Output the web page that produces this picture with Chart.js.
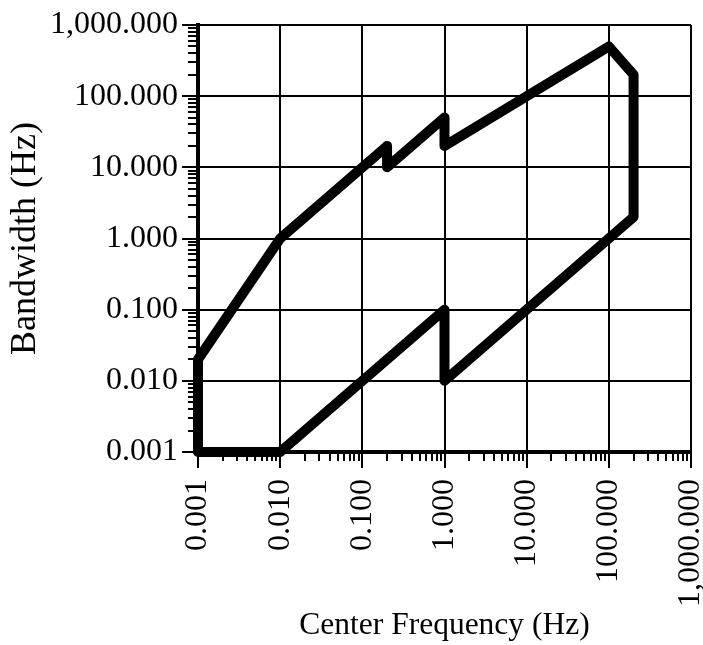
<!DOCTYPE html>
<html>
<head>
<meta charset="utf-8">
<title>Bandwidth vs Center Frequency</title>
<script src="https://cdn.jsdelivr.net/npm/chart.js@4.4.0/dist/chart.umd.min.js"></script>
<style>
  body { margin: 0; background: #fff; }
  canvas { display: block; }
</style>
</head>
<body>
<canvas id="chartBanda" width="703" height="645"></canvas>
<script>
// contorno da região coberta, percorrido em ordem
const centerFreq = [0.001, 0.001, 0.01, 0.2, 0.2, 1, 1, 100, 200, 200, 1, 1, 0.01, 0.001];
const bandwidth = [0.001, 0.02, 1, 20, 10, 50, 20, 500, 200, 2, 0.01, 0.1, 0.001, 0.001];

const xTickValues = [0.001, 0.01, 0.1, 1, 10, 100, 1000];
const xTickLabels = ["0.001", "0.010", "0.100", "1.000", "10.000", "100.000", "1,000.000"];
const yTickValues = [0.001, 0.01, 0.1, 1, 10, 100, 1000];
const yTickLabels = ["0.001", "0.010", "0.100", "1.000", "10.000", "100.000", "1,000.000"];

const fonte = "'Liberation Serif', 'Times New Roman', serif";

// tracinhos menores (2..9 de cada década), por fora da área do gráfico
const minorTicks = {
  id: 'minorTicks',
  afterDraw(chart) {
    const ctx = chart.ctx;
    const sx = chart.scales.x;
    const sy = chart.scales.y;
    const area = chart.chartArea;
    ctx.save();
    ctx.strokeStyle = '#000';
    ctx.lineWidth = 2;
    ctx.beginPath();
    for (let d = 0; d < xTickValues.length - 1; d++) {
      for (let m = 2; m <= 9; m++) {
        const px = Math.round(sx.getPixelForValue(xTickValues[d] * m));
        ctx.moveTo(px, area.bottom);
        ctx.lineTo(px, area.bottom + 9);
      }
    }
    for (let d = 0; d < yTickValues.length - 1; d++) {
      for (let m = 2; m <= 9; m++) {
        const py = Math.round(sy.getPixelForValue(yTickValues[d] * m));
        ctx.moveTo(area.left, py);
        ctx.lineTo(area.left - 10, py);
      }
    }
    ctx.stroke();
    ctx.restore();
  }
};

const pontos = centerFreq.map((f, i) => ({ x: f, y: bandwidth[i] }));

let ctx = document.getElementById("chartBanda").getContext("2d");
let graficoBanda = new Chart(ctx, {
  type: 'scatter',
  data: {
    datasets: [{
      data: pontos,
      showLine: true,
      borderColor: '#000',
      borderWidth: 10,
      borderJoinStyle: 'round',
      borderCapStyle: 'round',
      pointRadius: 0,
      pointHoverRadius: 0,
      tension: 0,
      clip: false
    }]
  },
  options: {
    responsive: false,
    animation: false,
    layout: { padding: { left: 0, top: 25, right: 12, bottom: 0 } },
    plugins: {
      legend: { display: false },
      tooltip: { enabled: false }
    },
    scales: {
      x: {
        type: 'logarithmic',
        min: 0.001,
        max: 1000,
        afterBuildTicks: s => { s.ticks = xTickValues.map(v => ({ value: v })); },
        afterFit: s => { s.height = 193; s.paddingLeft = 0; s.paddingRight = 0; },
        ticks: {
          autoSkip: false,
          minRotation: 90,
          maxRotation: 90,
          padding: 11,
          color: '#000',
          font: { family: fonte, size: 32 },
          callback: (v, i) => xTickLabels[i]
        },
        grid: { color: '#000', lineWidth: 2, tickLength: 16, tickWidth: 2, tickColor: '#000' },
        border: { color: '#000', width: 4 },
        title: {
          display: true,
          text: 'Center Frequency (Hz)',
          color: '#000',
          font: { family: fonte, size: 31.5 },
          padding: { top: 0, bottom: 0 }
        }
      },
      y: {
        type: 'logarithmic',
        min: 0.001,
        max: 1000,
        afterBuildTicks: s => { s.ticks = yTickValues.map(v => ({ value: v })); },
        afterFit: s => { s.width = 198; s.paddingTop = 0; s.paddingBottom = 0; },
        ticks: {
          autoSkip: false,
          padding: 4,
          color: '#000',
          font: { family: fonte, size: 32 },
          callback: (v, i) => yTickLabels[i]
        },
        grid: { color: '#000', lineWidth: 2, tickLength: 16, tickWidth: 2, tickColor: '#000' },
        border: { color: '#000', width: 4 },
        title: {
          display: true,
          text: 'Bandwidth (Hz)',
          color: '#000',
          font: { family: fonte, size: 36 },
          padding: { top: 4, bottom: 0 }
        }
      }
    }
  },
  plugins: [minorTicks]
});
</script>
</body>
</html>
